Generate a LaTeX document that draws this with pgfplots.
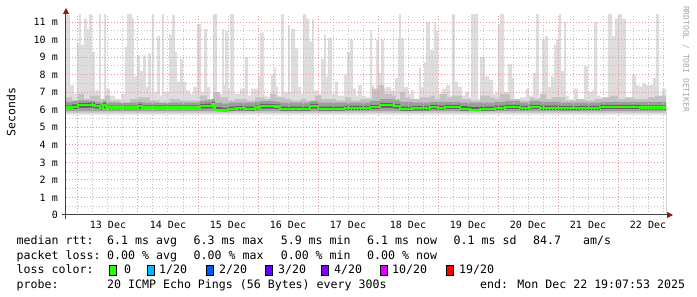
\documentclass[border=0pt]{standalone}
\usepackage{fontspec}
\setmainfont{DejaVu Sans Mono}
\usepackage{pgfplots}
\pgfplotsset{compat=1.18}
\usepackage{pgfplotstable}
\usetikzlibrary{arrows.meta}

\definecolor{lossA}{HTML}{26FF00}
\definecolor{lossB}{HTML}{00B8FF}
\definecolor{lossC}{HTML}{0059FF}
\definecolor{lossD}{HTML}{5E00FF}
\definecolor{lossE}{HTML}{7E00FF}
\definecolor{lossF}{HTML}{DD00FF}
\definecolor{lossG}{HTML}{FF0000}
\definecolor{smokeA}{HTML}{DDDDDD}
\definecolor{smokeB}{HTML}{C2C2C2}
\definecolor{smokeC}{HTML}{9C9C9C}
\definecolor{smokeD}{HTML}{626262}
\definecolor{mgrid}{RGB}{235,150,150}
\definecolor{ngrid}{RGB}{195,195,195}
\definecolor{axiscol}{HTML}{404040}
\definecolor{arrowcol}{HTML}{8B1A1A}

\pgfplotstableread{
x y
12.800 11.4
12.867 7.4
12.933 6.9
12.983 9.8
13.017 11.5
13.050 9.7
13.100 11.2
13.150 10.6
13.183 11.5
13.233 9.3
13.283 7.1
13.350 11.5
13.383 6.6
13.433 11.5
13.467 7.2
13.533 6.8
13.617 6.6
13.717 6.9
13.783 9.6
13.817 11.5
13.900 11.2
13.933 7.9
13.983 9.1
14.033 8.2
14.083 9.1
14.133 7.3
14.167 9.2
14.217 6.9
14.233 11.5
14.267 7.0
14.317 10.2
14.367 6.8
14.400 11.5
14.433 7.0
14.517 10.3
14.567 11.4
14.617 9.3
14.650 7.6
14.700 8.9
14.750 7.6
14.800 7.1
14.867 6.9
14.917 7.3
14.983 10.9
15.050 7.0
15.100 10.6
15.150 7.3
15.200 6.6
15.250 11.5
15.317 6.9
15.400 10.6
15.433 7.4
15.450 10.5
15.500 7.2
15.533 11.5
15.600 6.9
15.700 7.2
15.783 9.0
15.833 6.8
15.883 7.2
16.000 7.9
16.033 10.4
16.100 6.8
16.167 6.7
16.217 8.0
16.267 8.4
16.300 7.3
16.333 6.8
16.383 11.5
16.433 7.0
16.500 10.8
16.533 7.0
16.550 10.6
16.617 9.5
16.667 7.3
16.717 6.9
16.750 11.5
16.800 11.2
16.850 9.9
16.900 11.2
16.933 7.1
17.000 6.9
17.050 8.9
17.100 10.3
17.133 7.9
17.167 10.1
17.233 6.9
17.283 7.6
17.333 6.8
17.433 8.0
17.483 9.3
17.533 10.0
17.583 7.2
17.633 6.8
17.667 7.4
17.733 6.8
17.800 6.7
17.867 10.5
17.900 7.4
17.933 6.8
17.967 10.0
18.017 8.1
18.050 10.0
18.100 7.2
18.133 7.3
18.217 7.1
18.283 7.8
18.333 10.1
18.350 11.5
18.383 10.1
18.433 7.3
18.500 6.9
18.550 7.1
18.600 6.6
18.683 8.4
18.717 7.3
18.767 8.7
18.800 11.0
18.867 9.4
18.933 11.0
18.967 10.5
19.000 6.9
19.067 7.2
19.133 7.4
19.200 6.8
19.233 11.5
19.283 7.6
19.333 7.3
19.400 6.8
19.450 7.0
19.517 6.7
19.550 11.5
19.667 6.6
19.700 9.0
19.783 7.9
19.850 7.7
19.917 6.9
19.967 7.0
20.000 10.9
20.033 11.5
20.100 7.0
20.167 8.6
20.233 7.8
20.267 6.6
20.367 6.7
20.467 7.2
20.517 6.8
20.583 8.1
20.633 11.5
20.683 6.7
20.733 10.0
20.783 10.2
20.833 7.3
20.883 7.9
20.933 9.7
20.967 10.0
21.017 11.5
21.050 8.2
21.100 11.0
21.133 6.8
21.183 6.6
21.267 7.2
21.333 6.6
21.433 8.5
21.500 7.0
21.567 7.1
21.600 11.0
21.650 6.8
21.700 6.7
21.783 6.6
21.833 11.5
21.900 10.2
21.950 11.2
22.000 11.5
22.067 11.2
22.133 6.7
22.183 6.6
22.233 8.0
22.300 7.4
22.350 7.3
22.400 7.5
22.467 7.4
22.533 7.4
22.583 7.8
22.633 11.5
22.683 6.8
22.733 7.2
22.800 7.2
}\maxtab

\pgfplotstableread{
x y
12.800 6.7
12.900 6.5
13.000 6.9
13.100 6.6
13.200 6.8
13.367 6.6
13.450 6.8
13.533 6.5
13.700 6.4
13.867 6.6
14.000 6.7
14.200 6.5
14.350 6.4
14.533 6.6
14.700 6.5
14.867 6.5
15.033 6.8
15.150 6.6
15.250 7.0
15.367 6.7
15.500 6.5
15.617 6.6
15.800 6.5
15.950 6.7
16.100 6.6
16.200 6.9
16.300 6.7
16.450 6.6
16.550 6.5
16.700 6.6
16.800 6.5
16.950 6.8
17.050 6.6
17.200 6.6
17.300 6.5
17.450 6.7
17.550 6.5
17.700 6.6
17.900 7.2
18.000 7.4
18.100 6.9
18.233 6.8
18.300 6.6
18.367 7.0
18.450 6.7
18.533 6.6
18.700 6.7
18.867 6.8
18.950 6.6
19.033 6.9
19.150 6.7
19.233 6.8
19.400 6.6
19.550 6.5
19.700 6.8
19.867 6.7
19.950 6.6
20.033 6.9
20.200 6.6
20.367 6.5
20.533 6.7
20.600 6.6
20.700 6.9
20.800 6.6
20.900 6.7
21.117 6.5
21.300 6.6
21.450 6.5
21.617 6.6
21.750 6.7
21.867 6.8
22.000 6.6
22.117 6.7
22.250 6.6
22.367 6.6
22.500 6.7
22.617 6.8
22.800 6.8
}\midtab

\pgfplotstableread{
x med shi slo dhi
12.800 6.13 6.25 6.03 6.45
12.900 6.16 6.30 6.04 6.50
13.000 6.25 6.38 6.10 6.55
13.167 6.27 6.40 6.12 6.50
13.283 6.20 6.32 6.08 6.45
13.367 6.10 6.22 6.00 6.40
13.417 6.25 6.40 6.08 6.50
13.467 6.12 6.24 6.02 6.40
14.000 6.20 6.33 6.07 6.45
14.067 6.13 6.25 6.03 6.40
15.033 6.20 6.33 6.08 6.50
15.117 6.22 6.35 6.08 6.55
15.233 6.30 6.45 6.12 6.60
15.283 6.00 6.15 5.88 6.40
15.400 5.95 6.10 5.85 6.35
15.500 6.05 6.18 5.93 6.40
15.633 6.08 6.20 5.96 6.40
15.783 6.05 6.18 5.94 6.40
15.950 6.12 6.25 6.00 6.45
16.033 6.20 6.33 6.07 6.50
16.283 6.18 6.30 6.05 6.45
16.367 6.05 6.18 5.93 6.40
16.700 6.05 6.18 5.90 6.40
16.867 6.20 6.33 6.06 6.50
17.000 6.05 6.18 5.94 6.40
17.450 6.10 6.22 5.98 6.40
17.867 6.15 6.28 6.03 6.50
18.033 6.25 6.38 6.10 6.60
18.267 6.20 6.33 6.07 6.55
18.367 6.05 6.18 5.92 6.45
18.567 6.08 6.20 5.95 6.40
18.867 6.15 6.28 6.02 6.45
19.000 6.10 6.23 5.98 6.45
19.117 6.15 6.28 6.03 6.45
19.367 6.05 6.20 5.90 6.40
19.533 6.00 6.15 5.88 6.40
19.700 6.05 6.18 5.93 6.40
19.950 6.10 6.23 5.98 6.45
20.117 6.15 6.28 6.03 6.50
20.367 6.10 6.22 5.98 6.40
20.533 6.15 6.28 6.03 6.50
20.700 6.10 6.23 5.98 6.45
21.033 6.08 6.20 5.96 6.40
21.367 6.10 6.22 5.98 6.40
21.700 6.15 6.28 6.03 6.45
22.367 6.12 6.25 6.00 6.45
22.800 6.12 6.25 6.00 6.45
}\medtab

\newcommand\legfont{\fontsize{11.6}{13}\selectfont}
\newcommand\lbox[1]{{\setlength\fboxsep{0pt}\setlength\fboxrule{1pt}\fcolorbox{black}{#1}{\rule[-1pt]{0pt}{9pt}\rule{6pt}{0pt}}}}

\begin{document}
\begin{tikzpicture}[x=1pt,y=1pt]
\path[use as bounding box] (-66,-82) rectangle (631,215);
\begin{axis}[
  at={(0,0)}, anchor=south west,
  scale only axis, width=600pt, height=200pt,
  xmin=12.8, xmax=22.8, ymin=0, ymax=11.4,
  axis on top,
  axis lines=left,
  axis line style={axiscol, line width=1pt},
  x axis line style={-{Triangle[length=6pt,width=6pt,color=arrowcol]}, shorten >=-7pt, shorten <=-4pt},
  y axis line style={-{Triangle[length=6pt,width=6pt,color=arrowcol]}, shorten >=-7pt, shorten <=-4pt},
  major tick length=0pt, minor tick length=0pt,
  xtick={13,14,15,16,17,18,19,20,21,22},
  xticklabels={\empty,\empty,\empty,\empty,\empty,\empty,\empty,\empty,\empty,\empty},
  minor xtick={13.25,13.5,13.75,14.25,14.5,14.75,15.25,15.5,15.75,16.25,16.5,16.75,17.25,17.5,17.75,18.25,18.5,18.75,19.25,19.5,19.75,20.25,20.5,20.75,21.25,21.5,21.75,22.25,22.5,22.75},
  extra x ticks={13.5,14.5,15.5,16.5,17.5,18.5,19.5,20.5,21.5,22.5},
  extra x tick labels={13 Dec,14 Dec,15 Dec,16 Dec,17 Dec,18 Dec,19 Dec,20 Dec,21 Dec,22 Dec},
  extra x tick style={grid=none},
  xticklabel style={anchor=base, inner sep=0pt, yshift=-13.6pt, font=\fontsize{10}{12}\selectfont},
  ytick={0,1,2,3,4,5,6,7,8,9,10,11},
  yticklabels={0\hspace{9pt},1 m,2 m,3 m,4 m,5 m,6 m,7 m,8 m,9 m,10 m,11 m},
  minor ytick={0.5,1.5,2.5,3.5,4.5,5.5,6.5,7.5,8.5,9.5,10.5},
  yticklabel style={anchor=east, inner sep=0pt, xshift=-8pt, font=\fontsize{10}{12}\selectfont},
  grid=both,
  major grid style={mgrid, line width=1pt, dash pattern=on 1pt off 2pt},
  minor grid style={ngrid, line width=1pt, dash pattern=on 1pt off 2pt},
]
\addplot[const plot, fill=smokeA, draw=none] table[x=x,y=y]{\maxtab} \closedcycle;
\addplot[const plot, fill=smokeB, draw=none] table[x=x,y=y]{\midtab} \closedcycle;
\addplot[const plot, fill=smokeC, draw=none] table[x=x,y=dhi]{\medtab} \closedcycle;
\addplot[const plot, fill=smokeD, draw=none] table[x=x,y=shi]{\medtab} \closedcycle;
\addplot[const plot, fill=smokeC, draw=none] table[x=x,y=slo]{\medtab} \closedcycle;
\addplot[const plot, fill=smokeB, draw=none] coordinates {(12.8,5.93) (22.8,5.93)} \closedcycle;
\addplot[const plot, fill=smokeA, draw=none] coordinates {(12.8,5.83) (22.8,5.83)} \closedcycle;
\addplot[const plot, fill=white, draw=none] coordinates {(12.8,5.72) (22.8,5.72)} \closedcycle;
\addplot[const plot, draw=lossA, line width=2.3pt] table[x=x,y=med]{\medtab};
\end{axis}

\node[rotate=90, font=\fontsize{11.5}{13}\selectfont] at (-55,103) {Seconds};
\node[rotate=-90, font=\fontsize{8}{9}\selectfont, text=black!35] at (620,156) {RRDTOOL / TOBI OETIKER};

\begin{scope}[every node/.style={anchor=base west, inner sep=0pt, font=\legfont}]
\node at (-49.5,-30) {median rtt:};
\node at (41,-30) {6.1 ms avg};
\node at (127.5,-30) {6.3 ms max};
\node at (214.6,-30) {5.9 ms min};
\node at (301,-30) {6.1 ms now};
\node at (387.5,-30) {0.1 ms sd};
\node at (467,-30) {84.7};
\node at (517,-30) {am/s};

\node at (-49.5,-44.5) {packet loss:};
\node at (41,-44.5) {0.00 \% avg};
\node at (127.5,-44.5) {0.00 \% max};
\node at (214.6,-44.5) {0.00 \% min};
\node at (301,-44.5) {0.00 \% now};

\node at (-49.5,-59) {loss color:};
\node at (42.6,-59) {\lbox{lossA}};
\node at (58,-59) {0};
\node at (80.6,-59) {\lbox{lossB}};
\node at (93,-59) {1/20};
\node at (139.5,-59) {\lbox{lossC}};
\node at (153,-59) {2/20};
\node at (199,-59) {\lbox{lossD}};
\node at (212,-59) {3/20};
\node at (255,-59) {\lbox{lossE}};
\node at (268,-59) {4/20};
\node at (314,-59) {\lbox{lossF}};
\node at (326,-59) {10/20};
\node at (379.5,-59) {\lbox{lossG}};
\node at (393,-59) {19/20};

\node at (-49.5,-73.5) {probe:};
\node at (41,-73.5) {20 ICMP Echo Pings (56 Bytes) every 300s};
\node at (414,-73.5) {end: Mon Dec 22 19:07:53 2025};
\end{scope}
\end{tikzpicture}
\end{document}
